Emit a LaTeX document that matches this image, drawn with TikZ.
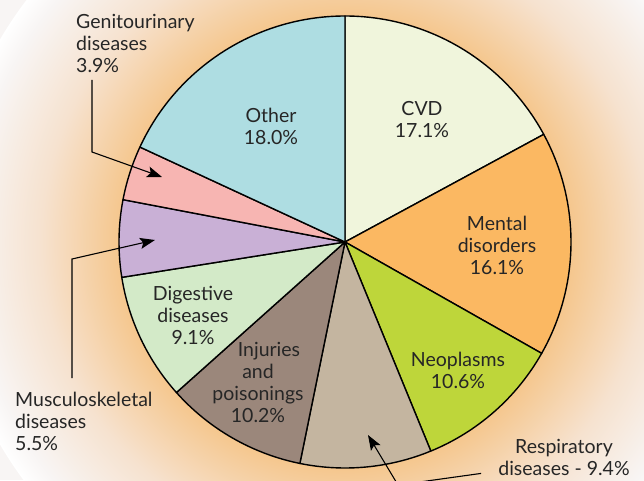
\documentclass[tikz,border=0pt]{standalone}
\usepackage{fontspec}
\setmainfont{Lato}
\usetikzlibrary{arrows.meta}

\definecolor{cvdcol}{HTML}{F0F5DC}
\definecolor{mentalcol}{HTML}{FBB862}
\definecolor{neocol}{HTML}{BED63A}
\definecolor{respcol}{HTML}{C4B5A0}
\definecolor{injcol}{HTML}{9B877B}
\definecolor{digcol}{HTML}{D3EAC8}
\definecolor{muscol}{HTML}{C9B0D6}
\definecolor{gencol}{HTML}{F7B5B2}
\definecolor{othercol}{HTML}{AEDDE2}
\definecolor{glowin}{HTML}{F5C68C}
\definecolor{glowmid}{HTML}{F6E2CF}
\definecolor{glowout}{HTML}{F8F5F4}

\pgfdeclareradialshading{glow}{\pgfpoint{0bp}{0bp}}{color(0bp)=(glowin); color(14bp)=(glowin); color(19bp)=(glowmid); color(23.5bp)=(glowout); color(25bp)=(white); color(50bp)=(white)}

\tikzset{
    slice/.style={draw=black, line width=1.4pt, line join=round},
    lbl/.style={align=center, font=\fontsize{19.5}{22}\selectfont, text=black!85, inner sep=0pt},
    leftlbl/.style={lbl, align=left},
    leader/.style={line width=1.1pt, -{Stealth[length=15pt,width=11pt,inset=3pt]}}
}

\begin{document}
\begin{tikzpicture}[x=1pt,y=1pt]
    \useasboundingbox (0,0) rectangle (644,480);
    \clip (0,0) rectangle (644,480);
    \fill[glowout] (0,0) rectangle (644,480);
    \coordinate (c) at (345,238);
    \shade[shading=glow] (c) circle (400);

    % slices, clockwise from the top
    \foreach \a/\b/\col in {90/28.44/cvdcol, 28.44/-29.52/mentalcol,
        -29.52/-67.68/neocol, -67.68/-101.52/respcol, -101.52/-138.24/injcol,
        -138.24/-171/digcol, -171/-190.8/muscol, -190.8/-204.84/gencol,
        -204.84/-270/othercol}
        \draw[slice, fill=\col] (c) -- ++(\a:226) arc[start angle=\a, end angle=\b, radius=226] -- cycle;

    \node[lbl] (other) at (271,354) {Other\\18.0\%};
    \node[lbl] (cvd) at (422,360) {CVD\\17.1\%};
    \node[lbl] (mental) at (497,235) {Mental\\disorders\\16.1\%};
    \node[lbl] (neo) at (458,110) {Neoplasms\\10.6\%};
    \node[lbl] (inj) at (258,98) {\hspace*{22pt}Injuries\\and\\poisonings\\10.2\%};
    \node[lbl] (dig) at (193,165) {Digestive\\diseases\\9.1\%};
    \node[leftlbl, anchor=north west] (genito) at (76,466) {Genitourinary\\diseases\\3.9\%};
    \node[leftlbl, anchor=north west] (musculo) at (15,88) {Musculoskeletal\\diseases\\5.5\%};
    \node[lbl] (resp) at (564,23) {Respiratory\\diseases - 9.4\%};

    % leaders
    \coordinate (genitobend) at (92,328);
    \coordinate (genitotip) at (162,303);
    \coordinate (musculobend) at (72,221);
    \coordinate (musculotip) at (155,240);
    \coordinate (respbend) at (398,-5);
    \coordinate (resptip) at (368,45);
    \draw[leader] ([xshift=16pt,yshift=-7pt]genito.south west) -- (genitobend) -- (genitotip);
    \draw[leader] ([xshift=57pt,yshift=14pt]musculo.north west) -- (musculobend) -- (musculotip);
    \draw[leader] ([xshift=-17pt,yshift=2pt]resp.south west) -- (respbend) -- (resptip);
\end{tikzpicture}
\end{document}
